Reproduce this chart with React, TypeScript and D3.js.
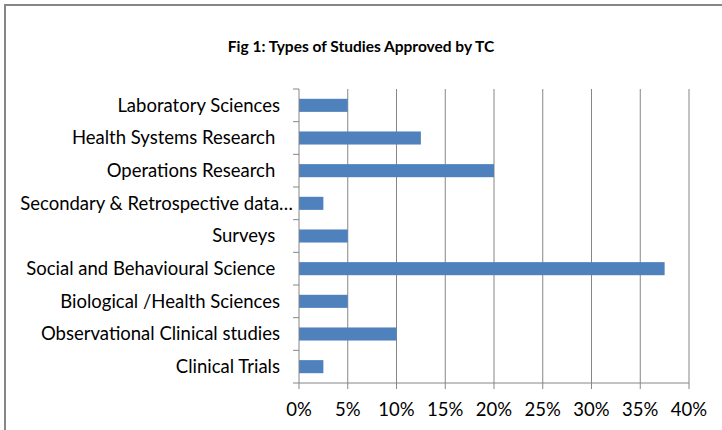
import React from "react";
import * as d3 from "d3";

const categories = [
  "Laboratory Sciences",
  "Health Systems Research ",
  "Operations Research ",
  "Secondary & Retrospective data…",
  "Surveys ",
  "Social and Behavioural Science ",
  "Biological /Health Sciences",
  "Observational Clinical studies",
  "Clinical Trials",
];
const values = [5, 12.5, 20, 2.5, 5, 37.5, 5, 10, 2.5];
const ticks = [0, 5, 10, 15, 20, 25, 30, 35, 40];
const title = "Fig 1: Types of Studies Approved by TC";

const W = 722;
const H = 430;
const left = 299;
const right = 689;
const top = 89;
const bottom = 383;
const font = "Lato, 'Liberation Sans', Arial, sans-serif";

export default function App() {
  const x = d3.scaleLinear().domain([0, 40]).range([left, right]);
  const y = d3.scaleBand<string>().domain(categories).range([top, bottom]).padding(0);
  const bh = y.bandwidth() / 2.5;
  const bands = categories.map((c) => y(c) as number).concat([bottom]);
  return (
    <svg width={W} height={H} style={{ position: "absolute", left: 0, top: 0, background: "#fff" }}>
      <rect x={5} y={5} width={900} height={600} fill="#fff" stroke="#868686" strokeWidth={2} />
      <text x={361} y={52} textAnchor="middle" fontFamily={font} fontWeight="bold" fontSize={15.5} fill="#000">
        {title}
      </text>
      {ticks.slice(1).map((t) => (
        <line key={"g" + t} x1={x(t)} x2={x(t)} y1={top} y2={bottom} stroke="#868686" strokeWidth={1} />
      ))}
      {categories.map((c, i) => (
        <rect
          key={"b" + c}
          x={x(0)}
          y={(y(c) as number) + (y.bandwidth() - bh) / 2}
          width={x(values[i]) - x(0)}
          height={bh}
          fill="#4F81BD"
        />
      ))}
      <line x1={left} x2={left} y1={top} y2={bottom} stroke="#868686" strokeWidth={1} />
      <line x1={left} x2={right} y1={bottom} y2={bottom} stroke="#868686" strokeWidth={1} />
      {bands.map((b, i) => (
        <line key={"yt" + i} x1={left - 6} x2={left} y1={b} y2={b} stroke="#868686" strokeWidth={1} />
      ))}
      {ticks.map((t) => (
        <line key={"xt" + t} x1={x(t)} x2={x(t)} y1={bottom} y2={bottom + 6} stroke="#868686" strokeWidth={1} />
      ))}
      {categories.map((c) => (
        <text
          key={"l" + c}
          x={c.endsWith("…") ? 293 : 280}
          y={(y(c) as number) + y.bandwidth() / 2}
          dy="0.35em"
          textAnchor="end"
          fontFamily={font}
          fontSize={18.5}
          fill="#000"
          style={{ whiteSpace: "pre" }}
        >
          {c}
        </text>
      ))}
      {ticks.map((t) => (
        <text
          key={"xl" + t}
          x={x(t)}
          y={416}
          textAnchor="middle"
          fontFamily={font}
          fontSize={18.5}
          fill="#000"
        >
          {t + "%"}
        </text>
      ))}
    </svg>
  );
}
